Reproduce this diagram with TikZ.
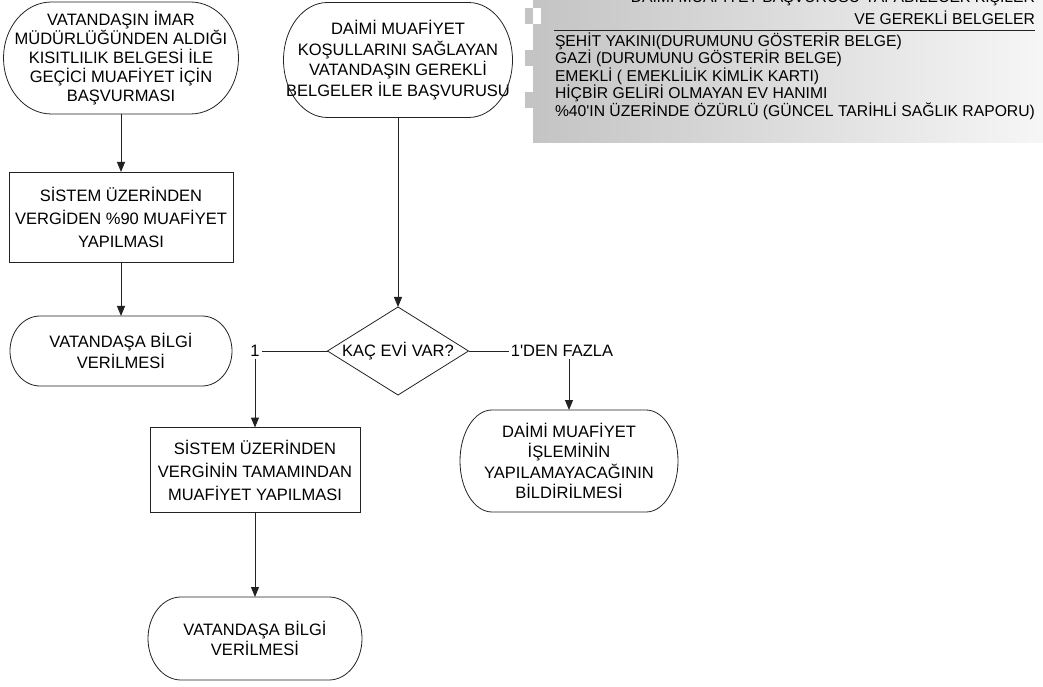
\documentclass[tikz,border=0pt]{standalone}
\usepackage{fontspec}
\setmainfont{Liberation Sans}
\usetikzlibrary{arrows.meta, shapes.geometric}
\definecolor{ln}{HTML}{222222}
\definecolor{g1}{RGB}{196, 196, 196}
\definecolor{g2}{RGB}{246, 246, 246}
% outline of a terminator round node #1 (x radius #2, half height #3)
\newcommand\termline[3]{%
	\draw[line] ([xshift=#2]#1.north west) -- ([xshift=-#2]#1.north east)
	arc[start angle=90, end angle=-90, x radius=#2, y radius=#3]
	-- ([xshift=#2]#1.south west)
	arc[start angle=270, end angle=90, x radius=#2, y radius=#3] -- cycle;}

\begin{document}
\begin{tikzpicture}[x=1pt, y=1pt,
	txt/.style={font=\fontsize{16.5}{20.5}\selectfont, align=center, inner sep=0pt, outer sep=0pt},
	term/.style={txt},
	proc/.style={txt, draw=ln, line width=0.8pt, font=\fontsize{16.5}{23}\selectfont},
	dec/.style={txt, diamond, draw=ln, line width=0.8pt, aspect=1.6},
	lbl/.style={txt, inner sep=2pt},
	hd/.style={txt, font=\fontsize{15.7}{17.6}\selectfont},
	line/.style={draw=ln, line width=0.8pt},
	arr/.style={draw=ln, line width=1pt, -{Triangle[length=10pt, width=8pt]}}]
	\clip (0, 0) rectangle (1043, 686);
	
	% gray list box
	\shade[left color=g1, right color=g2] (533, 543) rectangle (1043, 700);
	\fill[g1] (525, 662) rectangle (533, 678);
	\fill[g1] (525, 620) rectangle (533, 636);
	\fill[g1] (525, 578) rectangle (533, 594);
	\fill[white] (533, 662) rectangle (541, 678);
	\node[hd, anchor=base east] (headtop) at (1035, 683) {DAİMİ MUAFİYET BAŞVURUSU YAPABİLECEK KİŞİLER};
	\node[hd, anchor=base east] (head) at (1035, 661) {VE GEREKLİ BELGELER};
	\draw[line] (554, 656) -- (head.south east |- 0, 656);
	\node[hd, align=left, anchor=north west] (list) at (555, 653.5) {ŞEHİT YAKINI(DURUMUNU GÖSTERİR BELGE)\\GAZİ (DURUMUNU GÖSTERİR BELGE)\\EMEKLİ ( EMEKLİLİK KİMLİK KARTI)\\HİÇBİR GELİRİ OLMAYAN EV HANIMI\\\%40\textquotesingle IN ÜZERİNDE ÖZÜRLÜ (GÜNCEL TARİHLİ SAĞLIK RAPORU)};
	
	% left branch
	\node[term, minimum width=235pt, minimum height=112pt, font=\fontsize{16.5}{19}\selectfont] (gecici) at (121, 628) {VATANDAŞIN İMAR\\MÜDÜRLÜĞÜNDEN ALDIĞI\\KISITLILIK BELGESİ İLE\\GEÇİCİ MUAFİYET İÇİN\\BAŞVURMASI};
	\termline{gecici}{48pt}{56pt}
	\node[proc, minimum width=224pt, minimum height=90pt] (yuzde) at (121, 469) {SİSTEM ÜZERİNDEN\\VERGİDEN \%90 MUAFİYET\\YAPILMASI};
	\node[term, minimum width=222pt, minimum height=70pt] (bilgi1) at (121, 335) {VATANDAŞA BİLGİ\\VERİLMESİ};
	\termline{bilgi1}{30pt}{35pt}
	\draw[arr] (gecici.south) -- (yuzde.north);
	\draw[arr] (yuzde.south) -- (bilgi1.north);
	
	% right branch
	\node[term, minimum width=229pt, minimum height=115pt] (daimi) at (398, 626) {DAİMİ MUAFİYET\\KOŞULLARINI SAĞLAYAN\\VATANDAŞIN GEREKLİ\\BELGELER İLE BAŞVURUSU};
	\termline{daimi}{44pt}{57.5pt}
	\node[dec, minimum width=141pt, minimum height=88pt] (evsay) at (398, 335) {KAÇ EVİ VAR?};
	\node[lbl] (bir) at (255, 335) {1};
	\node[lbl] (fazla) at (562, 335) {1\textquotesingle DEN FAZLA};
	\draw[arr] (daimi.south) -- (evsay.north);
	\draw[line] (evsay.west) -- (evsay.west -| bir.east);
	\draw[line] (evsay.east) -- (evsay.east -| fazla.west);
	
	\node[proc, minimum width=210pt, minimum height=85pt] (tamami) at (255, 216) {SİSTEM ÜZERİNDEN\\VERGİNİN TAMAMINDAN\\MUAFİYET YAPILMASI};
	\node[term, minimum width=214pt, minimum height=83pt] (bilgi2) at (255, 47.5) {VATANDAŞA BİLGİ\\VERİLMESİ};
	\termline{bilgi2}{33pt}{41.5pt}
	\draw[arr] (bir.south) -- (tamami.north);
	\draw[arr] (tamami.south) -- (bilgi2.north);
	
	\node[term, minimum width=218pt, minimum height=102pt] (red) at (569, 225) {DAİMİ MUAFİYET\\İŞLEMİNİN\\YAPILAMAYACAĞININ\\BİLDİRİLMESİ};
	\termline{red}{32pt}{51pt}
	\draw[arr] (fazla.south -| red.north) -- (red.north);
\end{tikzpicture}
\end{document}
